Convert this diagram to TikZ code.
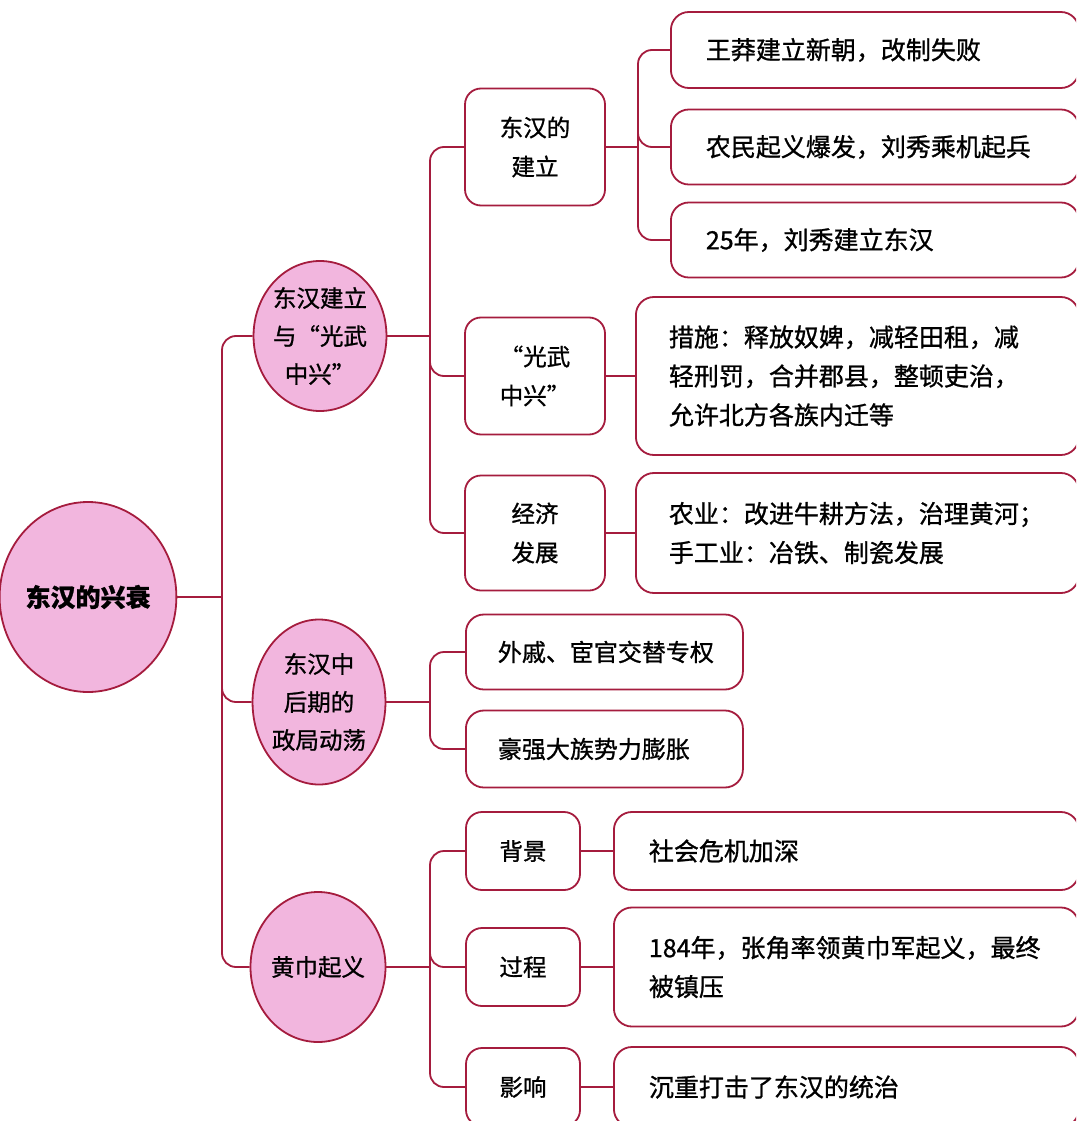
\documentclass[tikz,border=0pt]{standalone}
\usepackage{fontspec}
\setmainfont{Noto Sans CJK SC}[FakeBold=1]
\usetikzlibrary{shapes.geometric}
\definecolor{linec}{RGB}{165,28,62}
\definecolor{pinkf}{RGB}{242,182,222}
\begin{document}
\begin{tikzpicture}[x=1pt,y=-1pt,
  line/.style={draw=linec, line width=1.8pt},
  conn/.style={draw=linec, line width=1.8pt, rounded corners=14pt},
  oval/.style={ellipse, draw=linec, line width=1.8pt, fill=pinkf, inner sep=0pt, align=center, font=\fontsize{23.5}{38}\selectfont},
  midbox/.style={rectangle, rounded corners=16pt, draw=linec, line width=1.8pt, fill=white, inner sep=0pt, align=center, font=\fontsize{23.5}{39}\selectfont},
  leaf/.style={rectangle, rounded corners=18pt, draw=linec, line width=1.8pt, fill=white, anchor=west, align=left, inner xsep=35pt, inner ysep=0pt, font=\fontsize{25}{39}\selectfont}]
\clip (0,0) rectangle (1076,1121);
\fill[white] (0,0) rectangle (1076,1121);

% level 0
\node[oval, minimum width=153, minimum height=190, font=\fontsize{25}{30}\selectfont\bfseries] (root) at (88,597) {东汉的兴衰};

% level 1
\node[oval, minimum width=125, minimum height=150] (a) at (320,336) {东汉建立\\与“光武\\中兴”};
\node[oval, minimum width=122, minimum height=165] (b) at (319,702) {东汉中\\后期的\\政局动荡};
\node[oval, minimum width=135, minimum height=150] (c) at (318,967) {黄巾起义};

% level 2
\node[midbox, minimum width=140, minimum height=117] (b1) at (535,147) {东汉的\\建立};
\node[midbox, minimum width=140, minimum height=117] (b2) at (535,376) {“光武\\中兴”};
\node[midbox, minimum width=140, minimum height=115] (b3) at (535,533) {经济\\发展};

\node[leaf, inner xsep=32pt, text width=213, minimum height=75, font=\fontsize{24}{39}\selectfont] (c1) at (465,652) {外戚、宦官交替专权};
\node[leaf, inner xsep=32pt, text width=213, minimum height=77, font=\fontsize{24}{39}\selectfont] (c2) at (465,749) {豪强大族势力膨胀};

\node[midbox, minimum width=114, minimum height=78] (d1) at (523,851) {背景};
\node[midbox, minimum width=114, minimum height=78] (d2) at (523,967) {过程};
\node[midbox, minimum width=114, minimum height=78] (d3) at (523,1087) {影响};

% level 3
\node[leaf, text width=338, minimum height=76] (w1) at (670,50) {王莽建立新朝，改制失败};
\node[leaf, text width=338, minimum height=75] (w2) at (670,147) {农民起义爆发，刘秀乘机起兵};
\node[leaf, text width=338, minimum height=75] (w3) at (670,240) {25年，刘秀建立东汉};

\node[leaf, inner xsep=33pt, text width=377, minimum height=158] (g1) at (635,376) {措施：释放奴婢，减轻田租，减\\轻刑罚，合并郡县，整顿吏治，\\允许北方各族内迁等};
\node[leaf, inner xsep=33pt, text width=377, minimum height=120] (g2) at (635,533) {农业：改进牛耕方法，治理黄河；\\手工业：冶铁、制瓷发展};

\node[leaf, text width=395, minimum height=78] (e1) at (613,851) {社会危机加深};
\node[leaf, text width=395, minimum height=119] (e2) at (613,967) {184年，张角率领黄巾军起义，最终\\被镇压};
\node[leaf, text width=395, minimum height=80] (e3) at (613,1087) {沉重打击了东汉的统治};

% hubs
\coordinate (ra) at (222,597);
\coordinate (aa) at (430,336);
\coordinate (ba) at (430,702);
\coordinate (ca) at (430,967);
\coordinate (b1a) at (638,147);

\draw[line] (root.east) -- (ra);
\draw[line] (a.east) -- (aa);
\draw[line] (b.east) -- (ba);
\draw[line] (c.east) -- (ca);
\draw[line] (b1.east) -- (b1a);
\foreach \t in {a,b,c} \draw[conn] (ra) |- (\t.west);
\foreach \t in {b1,b2,b3} \draw[conn] (aa) |- (\t.west);
\foreach \t in {c1,c2} \draw[conn] (ba) |- (\t.west);
\foreach \t in {d1,d2,d3} \draw[conn] (ca) |- (\t.west);
\foreach \t in {w1,w2,w3} \draw[conn] (b1a) |- (\t.west);
\draw[line] (b2.east) -- (g1.west);
\draw[line] (b3.east) -- (g2.west);
\draw[line] (d1.east) -- (e1.west);
\draw[line] (d2.east) -- (e2.west);
\draw[line] (d3.east) -- (e3.west);
\end{tikzpicture}
\end{document}
